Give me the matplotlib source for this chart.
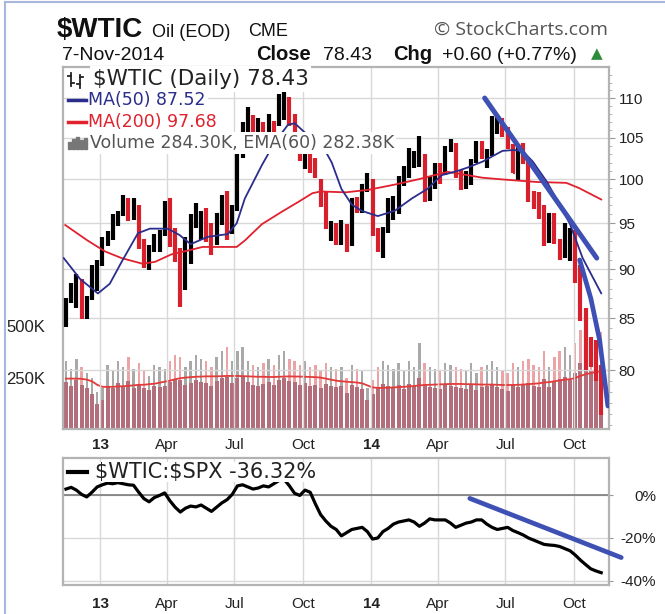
import numpy as np
import pandas as pd
import matplotlib
matplotlib.use('Agg')
import matplotlib.pyplot as plt
import matplotlib.dates as mdates
from matplotlib.ticker import FixedLocator, NullFormatter, FuncFormatter
from matplotlib.lines import Line2D
from matplotlib.patches import Rectangle

W, H = 665, 614

# weekly bars (Friday of each week)
weeks = pd.date_range('2012-11-16', '2014-11-07', freq='W-FRI')

close = [86.7, 88.3, 88.9, 85.9, 86.7, 88.7, 90.8,
         93.1, 93.6, 95.6, 95.9,
         97.8, 95.7, 95.9, 93.1,
         90.7, 91.9, 93.5, 93.7,
         97.2, 92.7, 91.3, 88.0, 93.0,
         95.6, 96.0, 96.0, 94.2,
         92.0, 96.0, 97.9, 93.7, 96.6,
         103.2, 105.9, 108.0, 104.7,
         106.9, 106.0, 107.5, 106.4, 107.7,
         110.5, 108.2, 104.7, 102.9,
         103.8, 102.0, 100.8, 97.9,
         94.6, 94.6, 93.8, 95.0, 92.7,
         97.7, 96.6, 99.3, 100.3,
         94.0, 92.7, 94.4, 96.6, 97.5,
         99.9, 100.3, 102.2, 102.6,
         102.6, 98.9, 99.5, 101.7, 101.1,
         103.7, 104.3, 100.6, 99.8,
         100.0, 102.0, 104.4, 102.7,
         102.7, 106.9, 107.3, 105.7,
         104.1, 100.8, 103.1, 102.1,
         97.9, 97.7, 97.4, 93.7, 96.0,
         93.3, 92.3, 92.4, 93.5,
         89.7, 85.8, 82.8, 81.0, 80.5,
         78.43]

high = [87.0, 88.6, 89.5, 89.0, 87.2, 90.5, 91.0,
        93.5, 94.1, 96.0, 96.4,
        98.2, 97.8, 97.8, 97.0,
        93.3, 92.6, 93.8, 94.2,
        97.5, 97.8, 94.5, 92.3, 93.5,
        96.0, 97.3, 96.4, 96.7,
        95.0, 96.1, 98.2, 98.7, 97.0,
        103.9, 107.0, 108.9, 107.8,
        107.4, 107.0, 108.0, 107.1, 110.5,
        111.0, 110.1, 108.0, 104.8,
        104.4, 104.2, 102.5, 100.1,
        98.5, 95.3, 95.0, 95.4, 94.9,
        97.9, 98.0, 99.5, 100.7,
        100.1, 94.5, 94.6, 97.8, 98.1,
        100.4, 101.6, 103.8, 103.4,
        105.2, 103.0, 100.4, 102.0, 101.9,
        104.0, 104.9, 104.4, 101.1,
        101.0, 102.4, 104.6, 104.6,
        103.6, 107.7, 107.7, 107.5,
        106.3, 104.2, 104.2, 104.3,
        102.6, 98.7, 98.5, 97.0, 96.2,
        96.1, 93.3, 95.0, 94.5,
        94.3, 90.5, 86.0, 83.2, 82.9,
        80.5]

low = [84.1, 86.5, 86.0, 84.9, 84.9, 86.8, 87.8,
       90.4, 92.5, 93.1, 94.7,
       95.8, 95.3, 95.4, 92.2,
       90.2, 89.9, 91.8, 91.9,
       93.6, 92.4, 90.8, 86.1, 87.9,
       90.6, 94.5, 93.2, 92.9,
       91.5, 92.6, 94.8, 93.1, 93.8,
       96.4, 102.5, 104.6, 104.0,
       103.3, 103.7, 104.6, 103.6, 106.4,
       107.2, 106.4, 104.0, 102.2,
       101.2, 100.8, 100.2, 96.8,
       94.4, 93.0, 92.6, 92.6, 91.8,
       92.5, 96.1, 96.2, 98.5,
       93.6, 91.8, 91.2, 93.9, 95.4,
       96.0, 99.2, 100.2, 101.3,
       101.5, 97.4, 97.5, 98.9, 99.5,
       100.5, 103.3, 100.2, 98.8,
       98.9, 99.3, 102.0, 102.4,
       101.4, 102.8, 105.5, 105.1,
       103.6, 100.7, 99.8, 101.8,
       97.4, 96.6, 95.5, 92.5, 92.8,
       92.7, 91.0, 91.2, 90.9,
       88.6, 84.7, 80.0, 80.3, 79.0,
       75.9]

ma50_dates = ['2012-11-13', '2012-12-05', '2012-12-29', '2013-01-14', '2013-01-30',
              '2013-02-21', '2013-03-09', '2013-04-02', '2013-04-18', '2013-05-03',
              '2013-05-26', '2013-06-22', '2013-07-04', '2013-07-15', '2013-08-07',
              '2013-08-24', '2013-09-11', '2013-09-20', '2013-10-08', '2013-10-27',
              '2013-11-09', '2013-11-22', '2013-12-06', '2013-12-19', '2014-01-10',
              '2014-02-02', '2014-02-25', '2014-03-18', '2014-04-06', '2014-04-24',
              '2014-05-11', '2014-05-31', '2014-06-27', '2014-07-11', '2014-07-24',
              '2014-08-07', '2014-08-26', '2014-09-12', '2014-09-26', '2014-10-13',
              '2014-11-07']
ma50 = [91.2, 89.0, 87.5, 88.5, 90.8, 93.9, 94.4, 94.4, 93.7, 92.7,
        93.5, 93.8, 95.0, 97.8, 101.7, 104.4, 106.6, 106.8, 105.3, 104.1,
        102.0, 98.9, 97.1, 96.4, 95.8, 96.4, 97.8, 98.9, 100.5, 100.9,
        101.4, 102.1, 103.4, 103.5, 103.4, 102.1, 99.7, 97.1, 94.9, 91.2,
        87.52]

ma200_dates = ['2012-11-15', '2012-12-15', '2013-01-08', '2013-01-30', '2013-02-27',
               '2013-03-16', '2013-04-07', '2013-04-29', '2013-05-19', '2013-07-04',
               '2013-07-15', '2013-08-07', '2013-09-03', '2013-09-25', '2013-10-14',
               '2013-10-25', '2013-11-28', '2013-12-29', '2014-02-02', '2014-03-05',
               '2014-04-14', '2014-05-11', '2014-05-31', '2014-06-27', '2014-08-12',
               '2014-09-21', '2014-10-08', '2014-11-07']
ma200 = [94.8, 93.1, 91.9, 91.2, 90.6, 90.8, 91.6, 92.0, 92.4, 92.4,
         93.1, 94.9, 96.3, 97.4, 98.4, 98.6, 98.5, 98.8, 99.4, 100.0,
         100.9, 100.5, 100.2, 100.0, 99.7, 99.6, 99.0, 97.68]

# volume in thousands: weekly peak day, weekly typical day, EMA(60)
vol_peak = [330, 290, 340, 300, 270, 250, 180,
            200, 310, 280, 330,
            300, 350, 290, 320,
            280, 260, 310, 300,
            290, 330, 360, 350, 300,
            330, 360, 340, 330,
            300, 350, 380, 400, 330,
            380, 400, 330, 310,
            300, 320, 340, 310, 360,
            380, 340, 330, 310,
            330, 300, 310, 280,
            320, 300, 290, 300, 250,
            310, 290, 280, 200,
            240, 300, 330, 310, 290,
            320, 280, 330, 300,
            420, 320, 300, 290, 280,
            320, 310, 300, 290,
            280, 320, 270, 300,
            310, 330, 300, 280,
            270, 320, 300, 330,
            340, 310, 300, 380, 300,
            350, 380, 400, 360,
            420, 480, 450, 420, 390,
            470]
vol_base = [230, 210, 240, 215, 200, 170, 120,
            140, 210, 200, 225,
            210, 235, 200, 220,
            200, 190, 210, 205,
            210, 230, 245, 240, 215,
            225, 240, 230, 225,
            210, 235, 250, 255, 225,
            250, 260, 230, 215,
            210, 220, 230, 215, 240,
            250, 235, 230, 215,
            225, 210, 215, 200,
            220, 210, 205, 210, 175,
            215, 205, 195, 140,
            170, 205, 220, 210, 200,
            215, 195, 220, 210,
            250, 215, 205, 200, 195,
            215, 210, 205, 200,
            195, 215, 190, 205,
            210, 220, 205, 195,
            185, 215, 205, 220,
            225, 210, 205, 245, 205,
            230, 245, 255, 240,
            270, 320, 300, 280, 260,
            290]
vol_ema = [245, 245, 245, 244, 240, 232, 215,
           205, 205, 205, 207,
           208, 210, 212, 215,
           215, 218, 220, 225,
           230, 235, 242, 247, 250,
           252, 254, 255, 256,
           256, 256, 257, 258, 258,
           258, 257, 256, 255,
           254, 254, 253, 253, 254,
           255, 256, 255, 255,
           254, 253, 252, 250,
           245, 240, 235, 232, 230,
           228, 226, 222, 212,
           202, 200, 200, 201, 202,
           204, 205, 207, 209,
           212, 214, 215, 216, 217,
           218, 219, 219, 219,
           218, 218, 217, 216,
           216, 216, 215, 214,
           214, 214, 215, 216,
           218, 220, 222, 226, 228,
           232, 236, 240, 242,
           248, 258, 266, 272, 277,
           282]

# $WTIC:$SPX, % change
rel_spx = [3.0, 3.8, 2.5, 0.5, -0.7, 1.5, 4.0,
           5.0, 5.8, 5.5, 6.0,
           5.5, 5.0, 4.8, 1.5,
           -1.5, -3.0, -1.0, 0.0,
           1.2, -2.5, -5.5, -7.8, -6.0,
           -5.0, -5.4, -4.5, -6.0,
           -7.5, -5.5, -3.5, -2.0, 0.5,
           4.5, 5.0, 4.0, 3.0,
           3.5, 4.5, 4.0, 5.5, 7.0,
           7.5, 4.5, 1.0, 0.0,
           2.5, 1.5, -4.0, -9.0,
           -12.0, -14.5, -16.0, -19.0, -17.5,
           -16.0, -15.5, -15.0, -17.0,
           -20.5, -20.0, -17.0, -15.5, -13.5,
           -12.5, -12.0, -11.5, -12.5,
           -14.5, -13.0, -11.0, -11.5, -11.5,
           -11.5, -13.0, -15.0, -14.0,
           -13.0, -12.5, -11.5, -11.5,
           -13.5, -15.0, -16.0, -15.5,
           -15.0, -16.5, -17.5, -18.6,
           -20.0, -21.0, -22.0, -23.0, -23.3,
           -23.5, -24.0, -25.0, -26.0,
           -28.0, -30.4, -32.5, -34.5, -35.5,
           -36.32]

# hand-drawn trend lines
trend_a_dates = ['2014-06-03', '2014-11-01']
trend_a_px = [110.0, 91.2]
trend_b_dates = ['2014-10-09', '2014-10-24', '2014-11-05', '2014-11-16']
trend_b_px = [91.0, 87.0, 82.8, 76.7]
rel_trend_dates = ['2014-05-14', '2014-12-04']
rel_trend_pct = [-1.4, -29.2]

price_ticks = [80, 85, 90, 95, 100, 105, 110]
pct_ticks = [0, -20, -40]
pct_labels = ['0%', '-20%', '-40%']
month_ticks = ['2013-01-01', '2013-04-01', '2013-07-01', '2013-10-01',
               '2014-01-01', '2014-04-01', '2014-07-01', '2014-10-01']
month_labels = ['13', 'Apr', 'Jul', 'Oct', '14', 'Apr', 'Jul', 'Oct']

plt.rcParams['font.family'] = ['Liberation Sans', 'DejaVu Sans']

fig = plt.figure(figsize=(W / 100, H / 100), dpi=100)

def d2n(lst):
    return mdates.date2num(pd.to_datetime(lst, format='ISO8601'))

L, R = 63, 609
ax = fig.add_axes([L / W, 1 - 429 / H, (R - L) / W, (429 - 67) / H])
axv = ax.twinx()
ax.set_zorder(axv.get_zorder() + 1)
ax.patch.set_visible(False)
axr = fig.add_axes([L / W, 1 - 585 / H, (R - L) / W, (585 - 458) / H])

wk = mdates.date2num(weeks)
up = [True] + [close[i] >= close[i - 1] for i in range(1, len(close))]
bar_colors = ['black' if u else '#d7202b' for u in up]
vol_colors = ['#a9a9a9' if u else '#eba3a6' for u in up]

# volume
axv.bar(wk, vol_peak, width=3.2, color=vol_colors, zorder=1)
axv.bar(wk, vol_base, width=5.4, color='#b26f7b', zorder=2)
axv.plot(wk, vol_ema, color='#e33a3a', lw=1.3, zorder=3)
axv.set_ylim(0, 1760)
axv.yaxis.tick_left()
axv.set_yticks([250, 500], ['250K', '500K'])
axv.tick_params(axis='y', length=0, pad=13, labelsize=12, colors='#222')
for s in axv.spines.values():
    s.set_visible(False)

# price
ax.vlines(wk, low, high, colors=bar_colors, lw=3.0, zorder=3)
ax.hlines(close, wk, wk + 2.6, colors=bar_colors, lw=1.6, zorder=3)
ax.plot(d2n(ma200_dates), ma200, color='#e0212e', lw=1.3, zorder=4)
ax.plot(d2n(ma50_dates), ma50, color='#2a2d8c', lw=1.3, zorder=4)
ax.plot(d2n(trend_a_dates), trend_a_px, color='#3e50b4', lw=3.6,
        solid_capstyle='round', zorder=5)
ax.plot(d2n(trend_b_dates), trend_b_px, color='#3e50b4', lw=3.4,
        solid_capstyle='round', zorder=5)

ax.set_yscale('log')
ax.set_ylim(74.66, 114.07)
ax.yaxis.tick_right()
ax.yaxis.set_major_locator(FixedLocator(price_ticks))
ax.yaxis.set_major_formatter(FuncFormatter(lambda v, p: f'{v:.0f}'))
ax.yaxis.set_minor_locator(FixedLocator(np.arange(75, 114)))
ax.yaxis.set_minor_formatter(NullFormatter())
ax.tick_params(axis='y', which='major', length=4, color='#999', pad=3,
               labelsize=11, labelcolor='#222')
ax.tick_params(axis='y', which='minor', length=2.5, color='#aaa')
ax.grid(axis='y', which='major', color='#d8d8d8', lw=1)

# relative strength panel
axr.plot(wk, rel_spx, color='black', lw=2.3, zorder=3)
axr.plot(d2n(rel_trend_dates), rel_trend_pct, color='#3e50b4', lw=3.4,
         solid_capstyle='round', clip_on=False, zorder=4)
axr.axhline(0, color='#7a7a7a', lw=1.2, zorder=2)
axr.set_ylim(-42.1, 17.6)
axr.yaxis.tick_right()
axr.set_yticks(pct_ticks, pct_labels, ha='right')
axr.tick_params(axis='y', length=3, color='#999', pad=31, labelsize=11,
                labelcolor='#222')
axr.grid(axis='y', color='#d8d8d8', lw=1)

xlim = d2n(['2012-11-12', '2014-11-17T12:00'])
for a, pad in ((ax, 6.5), (axr, 8.5)):
    a.set_xlim(xlim)
    a.set_xticks(d2n(month_ticks))
    a.set_xticklabels(month_labels, fontsize=11)
    a.tick_params(axis='x', length=0, pad=pad, colors='#222')
    for lab, t in zip(a.get_xticklabels(), month_labels):
        if t in ('13', '14'):
            lab.set_fontweight('bold')
    a.grid(axis='x', color='#d8d8d8', lw=1)
    a.set_axisbelow(True)
    for s in a.spines.values():
        s.set_color('#b3b3b3')
        s.set_linewidth(1.6)

# header
def ftext(x, y, s, **kw):
    return fig.text(x / W, 1 - y / H, s, va='baseline', **kw)

ftext(57, 37, r'\$WTIC', fontsize=20, fontweight='bold', color='#111')
ftext(152, 37, 'Oil (EOD)', fontsize=13, color='#111')
ftext(248, 36, 'CME', fontsize=13, color='#111')
ftext(608, 35, '© StockCharts.com', fontsize=14, color='#555',
      family='Open Sans', ha='right')
ftext(62, 60, '7-Nov-2014', fontsize=14, color='#111')
ftext(256, 60, 'Close', fontsize=14.5, fontweight='bold', color='#111')
ftext(323, 60, '78.43', fontsize=14, color='#111')
ftext(393, 60, 'Chg', fontsize=14.5, fontweight='bold', color='#111')
ftext(442, 60, '+0.60 (+0.77%)', fontsize=14, color='#111')
ftext(591, 58, '▲', fontsize=11, color='#2e8b3a', family='DejaVu Sans')

# legend rows
def ltext(x, y, s, size, color, pad=0.12):
    box = dict(boxstyle=f'square,pad={pad}', fc='white', ec='none')
    fig.text(x / W, 1 - y / H, s, fontsize=size, color=color, va='center',
             family='DejaVu Sans', bbox=box, zorder=6)

ltext(93, 79, r'\$WTIC (Daily) 78.43', 15.5, '#222')
ltext(88, 100, 'MA(50) 87.52', 12.5, '#2a2d8c')
ltext(88, 122, 'MA(200) 97.68', 12.5, '#e0212e')
ltext(90, 143, 'Volume 284.30K, EMA(60) 282.38K', 12.5, '#555')
ltext(95, 472, r'\$WTIC:\$SPX -36.32%', 15, '#222', pad=0.0)

def fline(xs, ys, **kw):
    fig.add_artist(Line2D([x / W for x in xs], [1 - y / H for y in ys], zorder=7, **kw))

fline([68, 86], [100, 100], color='#2a2d8c', lw=2.5)
fline([68, 86], [122, 122], color='#e0212e', lw=2.5)
fline([68, 87], [472, 472], color='black', lw=3)
# ohlc icon
fline([71, 71], [73, 86], color='#222', lw=1.3)
fline([68, 71], [76, 76], color='#222', lw=1.3)
fline([71, 74], [83, 83], color='#222', lw=1.3)
fline([80, 80], [75, 88], color='#222', lw=1.3)
fline([77, 80], [84, 84], color='#222', lw=1.3)
fline([80, 83], [77, 77], color='#222', lw=1.3)
# volume icon
for bx, bh in ((68, 7), (72, 10), (76, 12), (80, 9), (84, 11)):
    fig.add_artist(Rectangle((bx / W, 1 - 149 / H), 2.6 / W, bh / H,
                             color='#777', zorder=7))

# outer frame
fline([5, 5], [2, 614], color='#a8b8dc', lw=1.5)
fline([5, 665], [2, 2], color='#a8b8dc', lw=1.5)

fig.savefig('out.png', dpi=100)
